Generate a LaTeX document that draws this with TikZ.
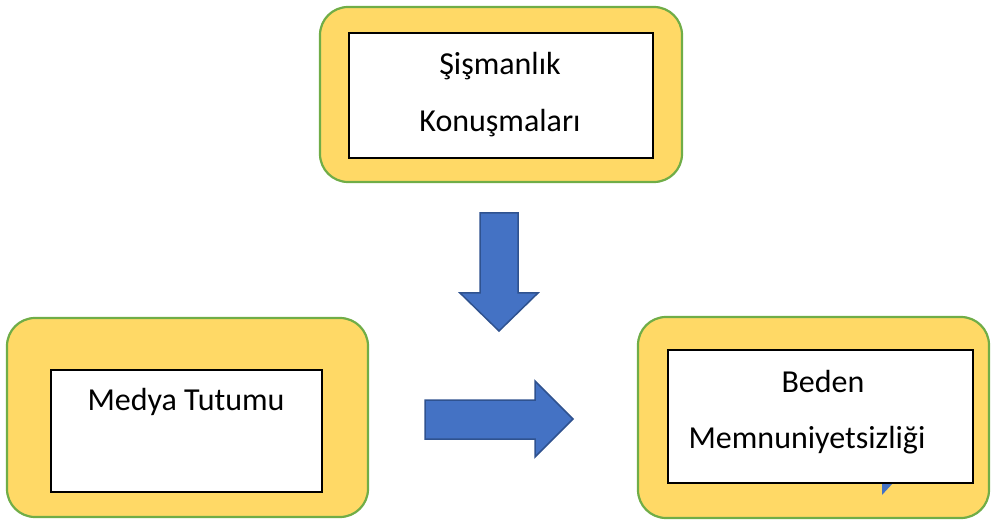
\documentclass[tikz,border=0pt]{standalone}
\usepackage{fontspec}
\setmainfont{Carlito}
\usetikzlibrary{positioning}
\definecolor{boxyellow}{HTML}{FFD966}
\definecolor{boxgreen}{HTML}{70AD47}
\definecolor{arrowblue}{HTML}{4472C4}
\definecolor{arrowedge}{HTML}{2F528F}
\tikzstyle{outerbox}=[draw=boxgreen,fill=boxyellow,line width=2.2pt,rounded corners=28pt,inner sep=0pt]
\tikzstyle{innerbox}=[draw=black,fill=white,line width=1.6pt,inner sep=0pt]
\tikzstyle{boxtext}=[font=\fontsize{32}{38}\selectfont,inner sep=0pt,anchor=base]
\tikzstyle{blockarrow}=[draw=arrowedge,fill=arrowblue,line width=1.5pt,line join=miter]

\begin{document}
\begin{tikzpicture}[x=1pt, y=-1pt]
    \useasboundingbox (0,0) rectangle (991,521);
    % First we draw the yellow frames
    \foreach \pos/\name/\w/\h in {{(501,94.5)/shmout/362/175}, {(187.5,417.5)/mdyout/361/199}, {(813.5,417.5)/bdnout/351/201}}
        \node[outerbox, minimum width=\w pt, minimum height=\h pt] (\name) at \pos {};
    % small callout tail under the last box
    \fill[arrowblue] (882,483) -- (893,483) -- (882,495) -- cycle;
    % then the white boxes inside them
    \foreach \pos/\name/\w/\h in {{(501,95.5)/shm/304/125}, {(186.5,431)/mdy/271/122}, {(820.5,416.5)/bdn/305/133}}
        \node[innerbox, minimum width=\w pt, minimum height=\h pt] (\name) at \pos {};
    % texts
    \node[boxtext] (shmA) at (500,75) {Şişmanlık};
    \node[boxtext] (shmB) at (500,132) {Konuşmaları};
    \node[boxtext] (mdyA) at (186,410) {Medya Tutumu};
    \node[boxtext] (bdnA) at (823,392) {Beden};
    \node[boxtext] (bdnB) at (807,448) {Memnuniyetsizliği};
    % block arrows
    \draw[blockarrow] (480,213) -- (518,213) -- (518,293) -- (538,293) -- (499,331) -- (460,293) -- (480,293) -- cycle;
    \draw[blockarrow] (425,400) -- (535,400) -- (535,381) -- (573,419) -- (535,457) -- (535,439) -- (425,439) -- cycle;
\end{tikzpicture}
\end{document}
